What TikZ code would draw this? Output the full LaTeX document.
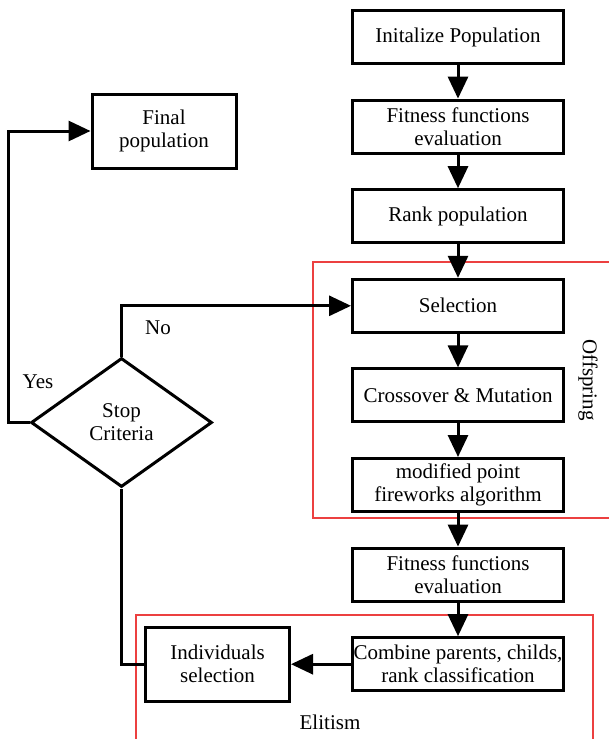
\documentclass[tikz,border=0pt]{standalone}
\usepackage{fontspec}
\setmainfont{Liberation Serif}
\usetikzlibrary{positioning}
\usetikzlibrary{arrows.meta}
\usetikzlibrary{shapes.geometric}
\definecolor{zonered}{RGB}{236,64,64}

\begin{document}
\begin{tikzpicture}[font=\fontsize{10.5}{11.5}\selectfont,
			block/.style={draw, line width=1.5pt, minimum width=105.5pt, minimum height=26.5pt, inner sep=0pt, align=center},
			sidebox/.style={block, minimum width=72pt, minimum height=37pt},
			flow/.style={line width=1.5pt, -{Triangle[length=11pt, width=10pt]}},
			link/.style={line width=1.5pt},
			zone/.style={draw=zonered, line width=0.8pt}]
			\useasboundingbox (0pt,0pt) rectangle (304.5pt,-369.5pt);
			
			% red groups
			\draw[zone] (156.5pt,-131pt) rectangle (306pt,-259pt);
			\draw[zone] (68pt,-307.5pt) rectangle (296.5pt,-372pt);
			\node[rotate=-90] (offspring) at (294pt,-190pt) {Offspring};
			\node (elitism) at (165pt,-361pt) {Elitism};
			
			\node[block] (init) at (229pt,-18.5pt) {Initalize Population};
			\node[block, below = 16.8pt of init] (fit) {Fitness functions\\evaluation};
			\node[block, below = 16.8pt of fit] (rank) {Rank population};
			\node[block, below = 16.8pt of rank] (sel) {Selection};
			\node[block, below = 16.8pt of sel] (cross) {Crossover \& Mutation};
			\node[block, below = 16.8pt of cross] (mfwa) {modified point\\fireworks algorithm};
			\node[block, below = 16.8pt of mfwa] (fitb) {Fitness functions\\evaluation};
			\node[block, below = 16.8pt of fitb] (comb) {Combine parents, childs,\\rank classification};
			
			\node[sidebox, left = 30pt of comb] (indiv) {Individuals\\selection};
			\node[sidebox] (final) at (82pt,-65.5pt) {Final\\population};
			\node[diamond, draw, line width=1.5pt, aspect=1.4, inner sep=1pt, minimum width=90.5pt, minimum height=64.5pt, align=center] (stop) at (60.75pt,-211.25pt) {Stop\\Criteria};
			
			\node (no) at (79pt,-164pt) {No};
			\node (yes) at (19pt,-191pt) {Yes};
			
			\path (init) edge[flow] (fit);
			\path (fit) edge[flow] (rank);
			\path (rank) edge[flow] (sel);
			\path (sel) edge[flow] (cross);
			\path (cross) edge[flow] (mfwa);
			\path (mfwa) edge[flow] (fitb);
			\path (fitb) edge[flow] (comb);
			\path (comb) edge[flow] (indiv);
			
			\draw[link] (indiv.west) -| (stop.south);
			\draw[flow] (stop.north) |- (sel.west);
			\draw[flow] (stop.west) -- ++(-10.5pt,0) |- (final.west);
\end{tikzpicture}
\end{document}
